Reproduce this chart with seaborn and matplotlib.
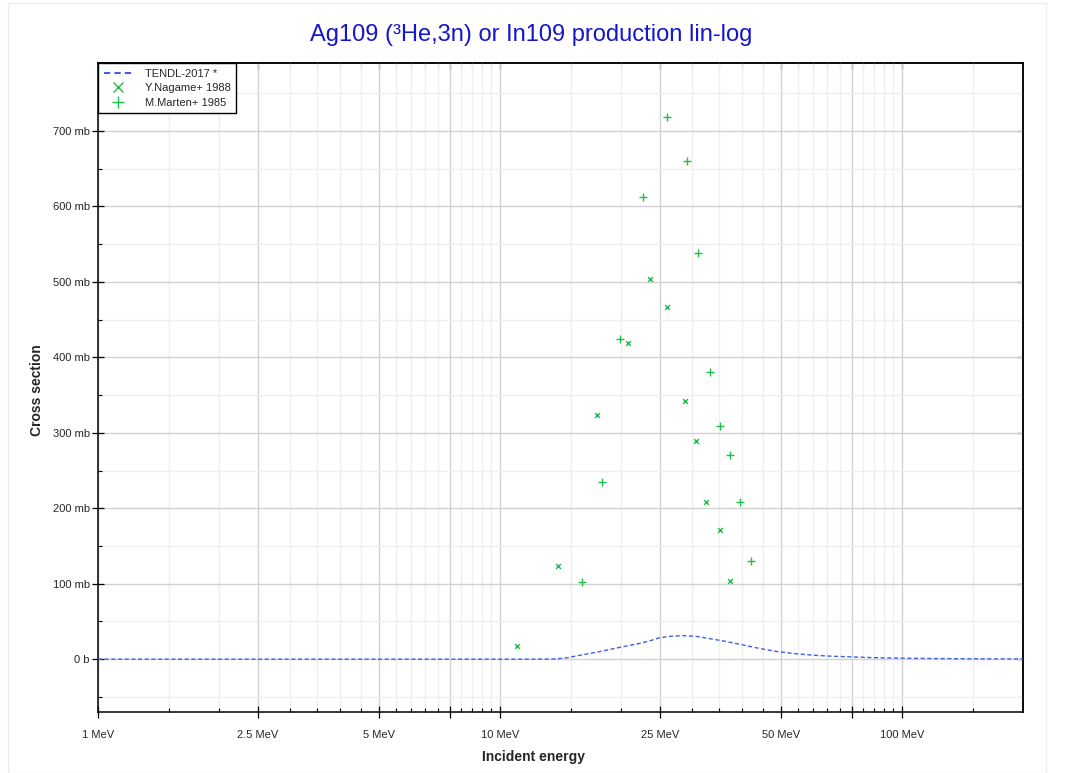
import numpy as np
import pandas as pd
import matplotlib
matplotlib.use("Agg")
import matplotlib.pyplot as plt
import seaborn as sns
from matplotlib.ticker import FixedLocator, NullFormatter
from matplotlib.lines import Line2D
from matplotlib.patches import Rectangle

# ---------------- data ----------------
tendl_energy = [1, 5, 10, 12, 13.2, 14.0, 14.8, 15.7, 16.6, 17.5, 18.6, 19.8, 21.0, 22.2, 23.5,
                24.9, 26.5, 28.8, 31.0, 33.8, 35.8, 39.4, 44.2, 49.5, 55, 60, 67, 75, 85, 100, 125, 150, 200]
tendl_xs = [0, 0, 0, 0, 0.1, 0.6, 2.2, 4.9, 7.2, 9.5, 12.5, 15.5, 18.2, 20.8, 24.0,
            28.3, 30.3, 31.2, 30.0, 26.5, 24.3, 19.9, 14.2, 9.7, 7.0, 5.3, 3.9, 3.0, 2.0, 1.3, 0.8, 0.5, 0.3]

nagame_energy = [11.04, 13.98, 17.48, 20.77, 23.56, 26.07, 28.79, 30.66, 32.47, 35.26, 37.25]
nagame_xs = [17.2, 122.9, 323.1, 419.3, 503.8, 466.3, 342.0, 288.6, 208.5, 170.6, 103.0]

marten_energy = [15.99, 17.89, 19.88, 22.72, 25.97, 29.12, 31.0, 33.30, 35.26, 37.25, 39.46, 42.02]
marten_xs = [101.7, 235.1, 423.8, 612.5, 718.2, 659.8, 538.6, 380.1, 309.3, 270.8, 208.5, 129.5]

x_major = [1, 2.5, 5, 7.5, 10, 25, 50, 75, 100]
x_major_labels = ["1 MeV", "2.5 MeV", "5 MeV", "", "10 MeV", "25 MeV", "50 MeV", "", "100 MeV"]
x_minor = [1.5, 2, 3, 3.5, 4, 4.5, 5.5, 6, 6.5, 7, 8, 8.5, 9, 9.5, 15, 20, 30, 35, 40, 45,
           55, 60, 65, 70, 80, 85, 90, 95, 150]
y_major = [0, 100, 200, 300, 400, 500, 600, 700]
y_minor = [-50, 50, 150, 250, 350, 450, 550, 650, 750]

title = "Ag109 (³He,3n) or In109 production lin-log"
series_labels = ["TENDL-2017 *", "Y.Nagame+ 1988", "M.Marten+ 1985"]

# ---------------- style ----------------
sns.set_theme(style="white")
plt.rcParams['font.family'] = ['Liberation Sans', 'DejaVu Sans']
plt.rcParams['axes.unicode_minus'] = False

blue_line = "#3f63e0"
green = "#1dbf4a"
title_blue = "#1515cc"

fig = plt.figure(figsize=(10.71, 7.73), dpi=100)
# faint outer frame
fig.patches.append(Rectangle((8 / 1071, 0), (1046 - 8) / 1071, 1 - 3 / 773,
                             transform=fig.transFigure, fill=False,
                             edgecolor="#ececec", linewidth=1.0))

ax = fig.add_axes([98 / 1071, 1 - 712 / 773, (1023 - 98) / 1071, (712 - 63) / 773])

df_t = pd.DataFrame({"E": tendl_energy, "xs": tendl_xs})
df_n = pd.DataFrame({"E": nagame_energy, "xs": nagame_xs})
df_m = pd.DataFrame({"E": marten_energy, "xs": marten_xs})

sns.lineplot(data=df_t, x="E", y="xs", ax=ax, color=blue_line, linewidth=1.0,
             linestyle=(0, (3, 1.8)), estimator=None, sort=False, zorder=3)
sns.scatterplot(data=df_n, x="E", y="xs", ax=ax, marker="x", color=green, s=12,
                linewidth=1.0, zorder=4)
sns.scatterplot(data=df_m, x="E", y="xs", ax=ax, marker="+", color=green, s=30,
                linewidth=1.0, zorder=4)

ax.set_xscale("log")
ax.set_xlim(1, 200)
ax.set_ylim(-70, 790)

ax.set_xticks(x_major)
ax.set_xticklabels(x_major_labels)
ax.xaxis.set_minor_locator(FixedLocator(x_minor))
ax.xaxis.set_minor_formatter(NullFormatter())

ax.set_yticks(y_major)
ax.set_yticklabels(["0 b" if v == 0 else f"{v} mb" for v in y_major])
ax.yaxis.set_minor_locator(FixedLocator(y_minor))
ax.yaxis.set_minor_formatter(NullFormatter())

ax.grid(True, which="major", color="#d2d2d2", linewidth=1.0, zorder=0)
ax.grid(True, which="minor", color="#efefef", linewidth=1.0, zorder=0)
ax.set_axisbelow(True)

for s in ax.spines.values():
    s.set_visible(True)
    s.set_color("black")
    s.set_linewidth(1.1)

ax.tick_params(which="major", direction="inout", length=8, width=0.9, color="black",
               labelsize=8, top=False, right=False, bottom=True, left=True)
ax.tick_params(which="minor", direction="in", length=3, width=0.8, color="black",
               top=False, right=False, bottom=True, left=True)
ax.tick_params(axis="x", which="major", pad=9)
ax.tick_params(axis="y", which="major", pad=2)

# inward ticks on top and right
secx = ax.secondary_xaxis("top")
secx.set_xticks(x_major)
secx.xaxis.set_minor_locator(FixedLocator(x_minor))
secx.tick_params(which="major", direction="in", length=4, width=0.9, color="black", labeltop=False)
secx.tick_params(which="minor", direction="in", length=3, width=0.8, color="black")
secx.xaxis.set_major_formatter(NullFormatter())
secx.xaxis.set_minor_formatter(NullFormatter())
secy = ax.secondary_yaxis("right")
secy.set_yticks(y_major)
secy.yaxis.set_minor_locator(FixedLocator(y_minor))
secy.tick_params(which="major", direction="in", length=4, width=0.9, color="black", labelright=False)
secy.tick_params(which="minor", direction="in", length=3, width=0.8, color="black")
secy.yaxis.set_major_formatter(NullFormatter())
secy.yaxis.set_minor_formatter(NullFormatter())

ax.set_xlabel("")
ax.set_ylabel("")
fig.text(37 / 1071, 1 - 390 / 773, "Cross section", rotation=90, ha="center", va="center",
         fontsize=10, fontweight="bold")
fig.text(534 / 1071, 1 - 757 / 773, "Incident energy", ha="center", va="center",
         fontsize=10, fontweight="bold")
fig.text(531 / 1071, 1 - 35 / 773, title, ha="center", va="center",
         fontsize=17, color=title_blue)

handles = [
    Line2D([], [], color=blue_line, linewidth=1.5, linestyle=(0, (3, 2))),
    Line2D([], [], color=green, marker="x", linestyle="none", markersize=6.5, markeredgewidth=1.0),
    Line2D([], [], color=green, marker="+", linestyle="none", markersize=9, markeredgewidth=1.0),
]
leg = ax.legend(handles, series_labels, loc="upper left", bbox_to_anchor=(0, 1),
                borderaxespad=0, fontsize=8, frameon=True, fancybox=False,
                edgecolor="black", framealpha=1, handlelength=2.6, handletextpad=1.1,
                labelspacing=0.42, borderpad=0.5)
leg.get_frame().set_linewidth(1.0)
leg.set_zorder(10)

fig.savefig("out.png", dpi=100)
